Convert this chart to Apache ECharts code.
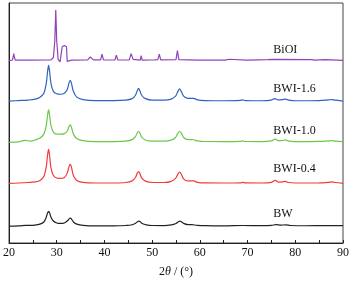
<!DOCTYPE html>
<html>
<head>
<meta charset="utf-8">
<script src="https://cdn.jsdelivr.net/npm/echarts@6/dist/echarts.min.js"></script>
<style>
  html, body { margin: 0; padding: 0; background: #fff; }
  #chart { width: 352px; height: 283px; }
</style>
</head>
<body>
<div id="chart"></div>
<script>
// series names, top to bottom
var names = ['BiOI', 'BWI-1.6', 'BWI-1.0', 'BWI-0.4', 'BW'];
var colors = ['#8f45b8', '#2f62c0', '#6cc84a', '#f23b3b', '#222222'];
// vertical offset of each pattern (arbitrary intensity units)
var offsets = [188.7, 146.7, 104.5, 61.7, 17.7];

// [2theta, intensity above baseline]
var biOI = [
  [20, 0], [20.7, 0.3], [20.9, 4], [21.0, 7], [21.1, 4], [21.3, 0.3], [22.1, 0.3], [22.3, 2], [22.5, 0.3],
  [24.2, 0.3], [24.4, 1.5], [24.6, 0.3], [28.8, 0.5], [29.3, 3], [29.6, 20], [29.8, 52], [30.0, 20],
  [30.3, 1], [30.7, -1.5], [31.0, -1], [31.15, 14], [31.3, 16], [31.6, 15.5], [31.9, 16], [32.05, 14],
  [32.2, -1], [32.5, 0], [33.1, 0.3], [33.3, 1], [33.5, 0.2], [36.5, 0.5], [37.0, 3.5], [37.3, 4],
  [37.7, 0.5], [39.2, 0.5], [39.5, 6.5], [39.8, 0.5], [42.2, 0.4], [42.5, 5.5], [42.8, 0.4], [45.2, 0.5],
  [45.6, 7], [46.0, 1], [47.5, 0.3], [47.7, 5], [47.9, 0.3], [49.8, 0.4], [50.2, 2], [50.6, 0.5],
  [51.2, 0.8], [51.5, 6.5], [51.8, 0.5], [55.0, 0.8], [55.3, 10], [55.6, 0.8], [59.8, 0.2], [60.1, 1.5],
  [60.4, 0.3], [61.5, 0.3], [61.7, 1.5], [62, 0.2], [65.3, 0.3], [65.5, 1.3], [66.1, 1.2], [66.4, 0.2],
  [69.8, 0.2], [70, 1], [70.3, 0.2], [74.2, 0.8], [74.6, 0.3], [75.3, 1], [75.6, 0.2], [83.5, 0.8],
  [84, 0.2], [86.2, 0.8], [86.5, 0.2], [90, 0]
];
var bwi16 = [
  [20, 0], [22, 0.5], [24, 1], [25.5, 2], [26.5, 4], [27.3, 8], [27.8, 18], [28.1, 31], [28.3, 37],
  [28.5, 31], [28.8, 18], [29.3, 10], [30, 7.5], [30.8, 7], [31.6, 8], [32.2, 12], [32.6, 19],
  [32.85, 21.5], [33.1, 18], [33.5, 10], [34.2, 4], [35.5, 1.5], [38, 0.5], [42, 0.5], [44.5, 1],
  [45.8, 2.5], [46.5, 6], [46.9, 11], [47.15, 13], [47.4, 11], [47.8, 6], [48.6, 2.5], [50, 1],
  [52.5, 1], [54, 2], [54.9, 5], [55.4, 10], [55.75, 12.5], [56.1, 10], [56.6, 5], [57.3, 3],
  [58.2, 2.7], [58.7, 2.7], [59.5, 1.2], [61, 0.5], [65, 0.3], [68.5, 0.6], [69, 1.2], [69.5, 0.5],
  [73, 0.3], [75, 1], [75.7, 2.5], [76.4, 1.2], [77.3, 1.5], [77.9, 2], [78.6, 1], [80, 0.3],
  [85, 0.5], [87, 1.2], [87.6, 1.5], [88.3, 1], [90, 0]
];
var bwi10 = [
  [20, -0.5], [22, 0], [23.4, 1.5], [24.5, 0.8], [25.5, 2], [26.5, 4], [27.3, 8], [27.8, 17], [28.1, 28],
  [28.3, 33], [28.5, 28], [28.8, 17], [29.3, 10], [30, 8], [30.8, 8], [31.6, 8.5], [32.2, 11], [32.6, 16],
  [32.85, 17.5], [33.1, 15], [33.5, 8], [34.2, 3.5], [35.5, 1.2], [38, 0.3], [42, 0.3], [44.5, 0.8],
  [45.8, 2.3], [46.5, 5.5], [46.9, 9.5], [47.15, 11], [47.4, 9.5], [47.8, 5], [48.6, 2], [50, 0.8],
  [52.5, 0.8], [54, 1.8], [54.9, 4.5], [55.4, 9], [55.75, 11], [56.1, 9], [56.6, 4.5], [57.3, 2.5],
  [58.2, 2.3], [58.7, 2.2], [59.5, 1], [61, 0.4], [65, 0.3], [68.5, 0.5], [69, 1], [69.5, 0.4],
  [73, 0.3], [75, 1], [75.8, 2.8], [76.5, 1.2], [77.3, 1.4], [77.9, 2], [78.6, 0.8], [80, 0.3],
  [85, 0.5], [87, 1], [87.6, 1.2], [88.3, 0.8], [90, 0.3]
];
var bwi04 = [
  [20, 0], [22, 0.3], [24, 0.8], [25.5, 1.5], [26.5, 3], [27.3, 7], [27.8, 17], [28.1, 30], [28.3, 35],
  [28.5, 29], [28.8, 16], [29.3, 8], [30, 5.5], [30.8, 5], [31.6, 6], [32.2, 10.5], [32.6, 17.5],
  [32.85, 19.5], [33.1, 16.5], [33.5, 8], [34.2, 3], [35.5, 1], [38, 0.3], [42, 0.3], [44.5, 0.8],
  [45.8, 2.5], [46.5, 6], [46.9, 10.5], [47.15, 12], [47.4, 10.5], [47.8, 5.5], [48.6, 2.2], [50, 0.8],
  [52.5, 0.8], [54, 2], [54.9, 5], [55.4, 9.5], [55.75, 11.5], [56.1, 9.5], [56.6, 4.5], [57.3, 2.5],
  [58.2, 2.5], [58.7, 2.4], [59.5, 1], [61, 0.4], [65, 0.3], [68.5, 0.5], [69, 1], [69.5, 0.4],
  [73, 0.3], [75, 1], [75.8, 3], [76.5, 1.3], [77.3, 1.5], [77.9, 2], [78.6, 0.8], [80, 0.3],
  [85, 0.4], [87, 1], [87.6, 1.5], [88.3, 0.8], [90, 0]
];
var bw = [
  [20, -0.3], [22, 0], [23.5, 0.5], [25, 0.6], [26.3, 1.5], [27.3, 4], [27.8, 9], [28.1, 13.5], [28.3, 15],
  [28.5, 13.5], [28.8, 9], [29.3, 5], [30, 3], [30.8, 2.5], [31.6, 3], [32.3, 5.5], [32.65, 7.5],
  [32.85, 8], [33.1, 7], [33.6, 3.5], [34.4, 1.5], [35.5, 0.6], [38, 0], [42, 0], [44.5, 0.4],
  [45.8, 1.2], [46.6, 3], [47.0, 4.5], [47.2, 5], [47.45, 4.5], [47.9, 2.5], [48.8, 1], [50, 0.4],
  [52.5, 0.3], [54, 1], [55, 2.5], [55.5, 4.3], [55.8, 5], [56.1, 4.3], [56.7, 2.3], [57.5, 1.3],
  [58.3, 1.2], [59.5, 0.6], [61, 0.2], [65, 0], [69, 0.4], [73, 0.2], [75, 0.5], [76, 1.3],
  [77, 0.8], [78, 1], [79, 0.4], [82, 0.1], [87, 0.3], [90, 0.2]
];
var patterns = [biOI, bwi16, bwi10, bwi04, bw];
// label position above each trace, in data units
var labelX = 75.4;
var labelY = [199.3, 159.3, 116, 76.7, 30];

var xTicks = [20, 30, 40, 50, 60, 70, 80, 90];

var chart = echarts.init(document.getElementById('chart'), null, { renderer: 'canvas' });

var series = patterns.map(function (pts, i) {
  return {
    name: names[i],
    type: 'line',
    showSymbol: false,
    smooth: i === 0 ? false : 0.35,
    lineStyle: { color: colors[i], width: 1.2 },
    data: pts.map(function (p) { return [p[0], p[1] + offsets[i]]; }),
    animation: false,
    z: 2
  };
});

chart.setOption({
  animation: false,
  grid: { left: 8, right: 9, top: 3, bottom: 32, show: true, borderColor: '#444', borderWidth: 1 },
  xAxis: {
    type: 'value',
    min: 20,
    max: 90,
    interval: 5,
    name: '{n|2}{i|θ}{n| / (°)}',
    nameLocation: 'middle',
    nameGap: 23,
    nameTextStyle: {
      rich: {
        n: { fontFamily: 'Liberation Serif', fontSize: 12, color: '#111' },
        i: { fontFamily: 'Liberation Serif', fontSize: 12, fontStyle: 'italic', color: '#111' }
      }
    },
    axisLine: { lineStyle: { color: '#222', width: 1 } },
    axisTick: { inside: true, length: 3, lineStyle: { color: '#222' } },
    axisLabel: {
      fontFamily: 'Liberation Serif',
      fontSize: 12,
      color: '#111',
      margin: 4,
      formatter: function (v) { return xTicks.indexOf(v) >= 0 ? String(v) : ''; }
    },
    splitLine: { show: false }
  },
  yAxis: {
    type: 'value',
    min: 0,
    max: 248,
    axisLine: { show: true, lineStyle: { color: '#222', width: 1 } },
    axisTick: { show: false },
    axisLabel: { show: false },
    splitLine: { show: false }
  },
  series: series
});

// trace labels
var texts = names.map(function (n, i) {
  var p = chart.convertToPixel({ gridIndex: 0 }, [labelX, labelY[i]]);
  return {
    type: 'text',
    x: p[0],
    y: p[1],
    style: {
      text: n,
      fill: '#111',
      font: '12px "Liberation Serif"',
      textAlign: 'left',
      textVerticalAlign: 'middle'
    }
  };
});
chart.setOption({ graphic: texts });
</script>
</body>
</html>
